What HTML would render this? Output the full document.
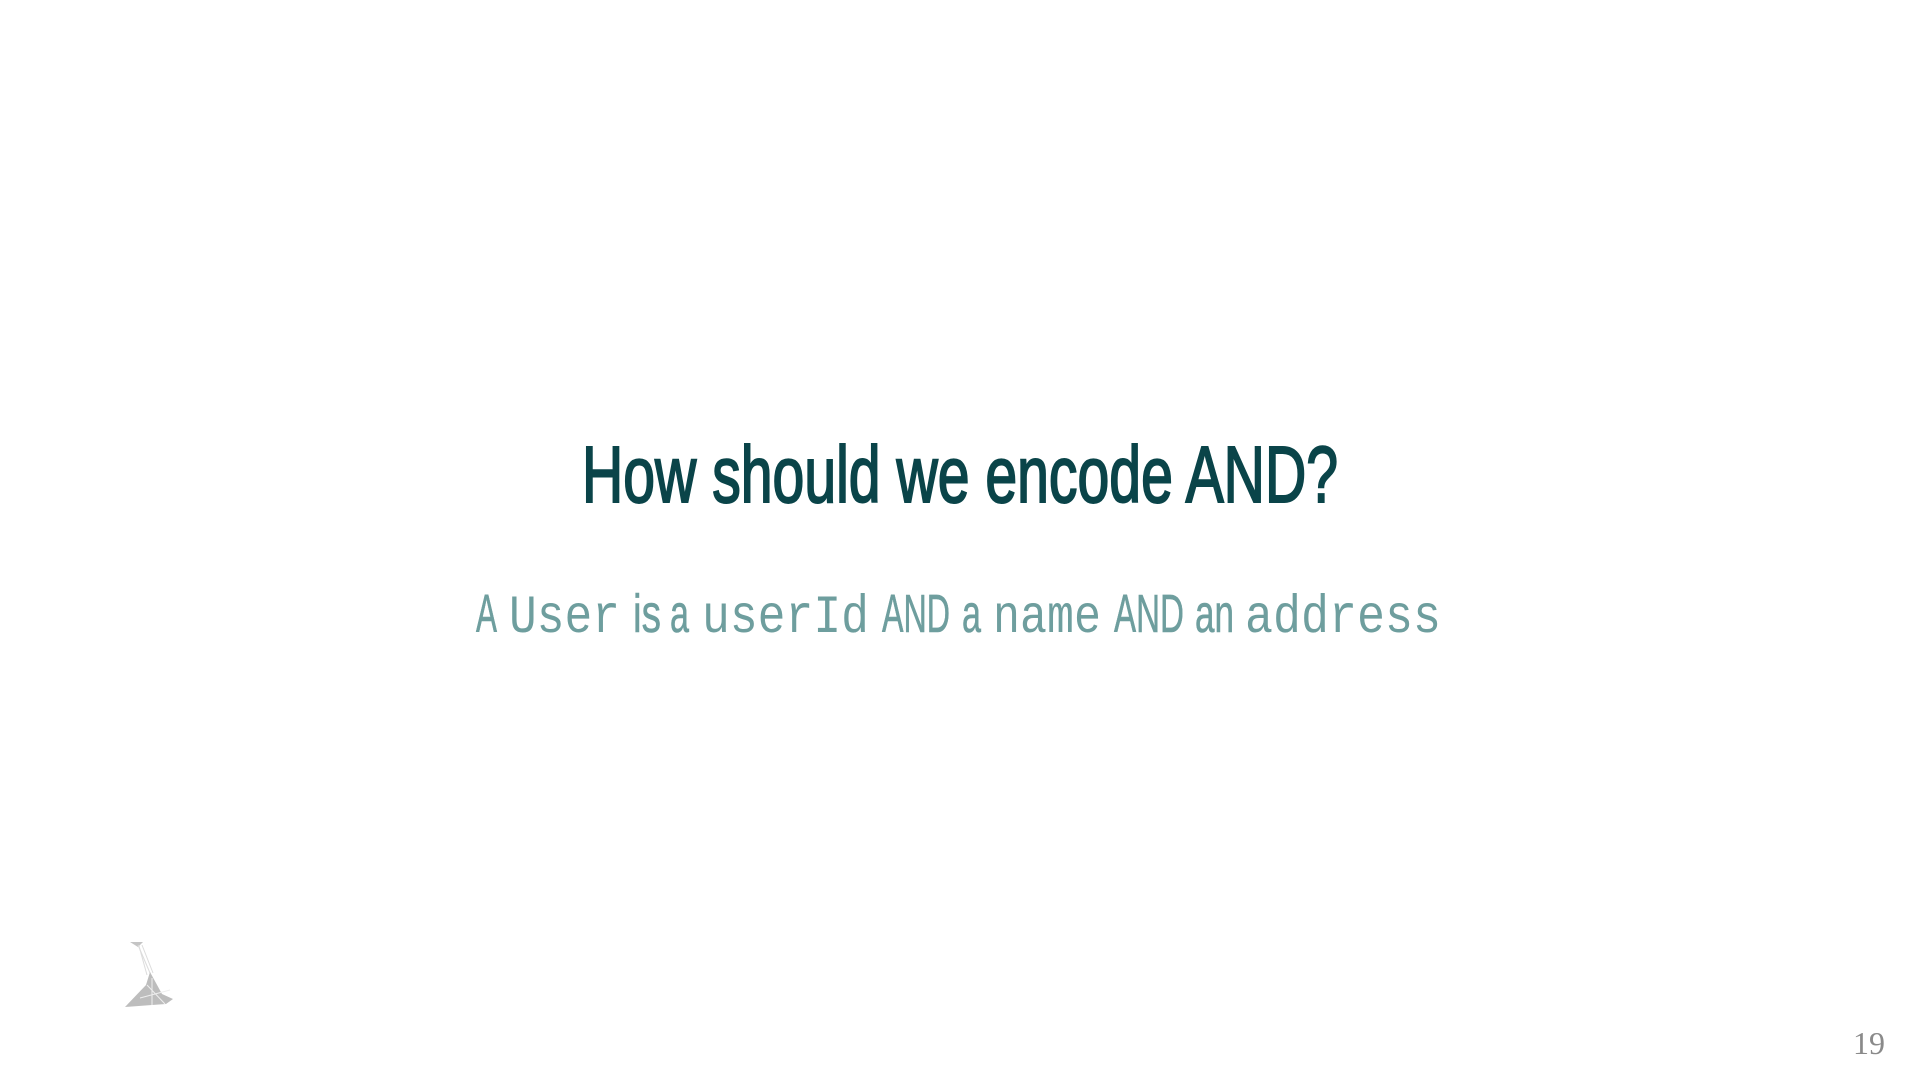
<!DOCTYPE html>
<html><head><meta charset="utf-8"><style>
html,body{margin:0;padding:0;background:#fff;width:1920px;height:1080px;overflow:hidden}
</style></head><body>
<svg width="1920" height="1080" xmlns="http://www.w3.org/2000/svg">
<rect width="1920" height="1080" fill="#fff"/>
<text x="582" y="502" textLength="756" lengthAdjust="spacingAndGlyphs" font-family="Liberation Sans Narrow, Liberation Sans, sans-serif" font-size="80" fill="#0a4449" stroke="#0a4449" stroke-width="2">How should we encode AND?</text>
<g fill="#6e9e9e" font-size="54">
<g font-family="Liberation Sans Narrow, Liberation Sans, sans-serif" stroke="#6e9e9e" stroke-width="0.6">
<text x="476" y="632" textLength="21" lengthAdjust="spacingAndGlyphs">A</text>
<text x="633" y="632" textLength="28" lengthAdjust="spacingAndGlyphs">is</text>
<text x="670" y="632" textLength="19" lengthAdjust="spacingAndGlyphs">a</text>
<text x="882" y="632" textLength="68" lengthAdjust="spacingAndGlyphs">AND</text>
<text x="962" y="632" textLength="19" lengthAdjust="spacingAndGlyphs">a</text>
<text x="1114" y="632" textLength="70" lengthAdjust="spacingAndGlyphs">AND</text>
<text x="1195" y="632" textLength="39" lengthAdjust="spacingAndGlyphs">an</text>
</g>
<g font-family="Liberation Mono, monospace">
<text x="509" y="632" textLength="111" lengthAdjust="spacingAndGlyphs">User</text>
<text x="702" y="632" textLength="167" lengthAdjust="spacingAndGlyphs">userId</text>
<text x="993" y="632" textLength="108" lengthAdjust="spacingAndGlyphs">name</text>
<text x="1245" y="632" textLength="196" lengthAdjust="spacingAndGlyphs">address</text>
</g>
</g>
<g>
<polygon points="130,942 143,942 138,947" fill="#c4c4c4"/>
<g stroke="#dcdcdc" stroke-width="1" fill="none">
<line x1="138" y1="945" x2="150" y2="973"/><line x1="142" y1="945" x2="153" y2="973"/><line x1="139" y1="946" x2="147" y2="975"/>
</g>
<polygon points="150,972 162,994 173,999 166,1004 152,1005 125,1007 146,985" fill="#bdbdbd"/>
<g stroke="#eee" stroke-width="1"><line x1="147" y1="985" x2="165" y2="1004"/><line x1="152" y1="978" x2="152" y2="1005"/><line x1="140" y1="998" x2="170" y2="990"/></g>
</g>
<text x="1853" y="1054" font-family="Liberation Serif, serif" font-size="32" fill="#8a8a8a">19</text>
</svg>
</body></html>
